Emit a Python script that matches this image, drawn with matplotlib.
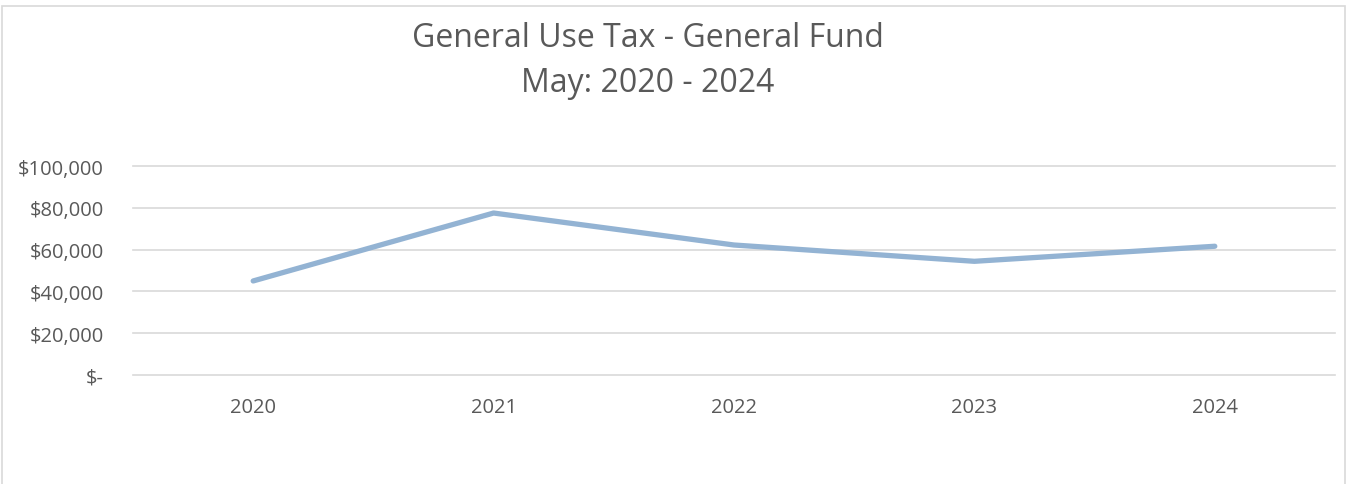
import matplotlib.pyplot as plt
from matplotlib.patches import Rectangle
from matplotlib.ticker import FuncFormatter

years = ["2020", "2021", "2022", "2023", "2024"]
use_tax = [45000, 77500, 62200, 54400, 61600]
y_ticks = [0, 20000, 40000, 60000, 80000, 100000]

plt.rcParams['font.family'] = ['Open Sans', 'DejaVu Sans']

fig = plt.figure(figsize=(13.5, 4.85), dpi=100)
# chart border (bottom edge is cut off in the reference)
fig.add_artist(Rectangle((2 / 1350, -0.05), 1343 / 1350, 1 - 7 / 485 + 0.05,
                         transform=fig.transFigure, fill=False,
                         edgecolor='#d9d9d9', linewidth=1.2))

ax = fig.add_axes([133 / 1350, 1 - 376 / 485, 1202 / 1350, 209 / 485])
x = range(len(years))
ax.plot(x, use_tax, color='#93b3d3', linewidth=3.8, solid_capstyle='round',
        solid_joinstyle='round')

ax.set_xlim(-0.5, len(years) - 0.5)
ax.set_ylim(0, 100000)
ax.set_yticks(y_ticks)
ax.yaxis.set_major_formatter(FuncFormatter(
    lambda v, p: "$-" if v == 0 else "${:,.0f}".format(v)))
ax.set_xticks(list(x))
ax.set_xticklabels(years)
ax.grid(True, axis='y', color='#d9d9d9', linewidth=1.2)
for gl in ax.get_ygridlines():
    gl.set_clip_on(False)
ax.set_axisbelow(True)
for s in ax.spines.values():
    s.set_visible(False)
ax.tick_params(length=0, labelsize=14.5, labelcolor='#595959')
ax.tick_params(axis='y', pad=21)
ax.tick_params(axis='x', pad=16)

fig.text(648 / 1350, 1 - 61 / 485, "General Use Tax - General Fund\nMay: 2020 - 2024",
         ha='center', va='center', fontsize=23, color='#595959', linespacing=1.45)

fig.savefig("out.png", dpi=100)
